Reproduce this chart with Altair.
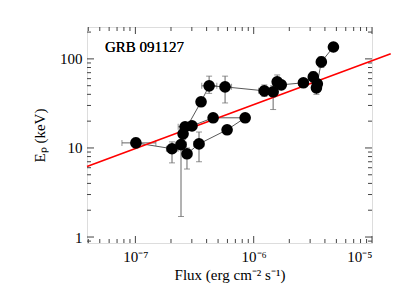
import altair as alt
import pandas as pd

# ---- data ----
flux = [1.01e-7, 2.04e-7, 2.43e-7, 2.73e-7, 3.45e-7, 5.96e-7, 8.47e-7, 4.54e-7,
        3.01e-7, 2.63e-7, 2.53e-7, 3.59e-7, 4.2e-7, 5.73e-7, 1.23e-6, 1.46e-6,
        1.58e-6, 1.71e-6, 2.63e-6, 3.19e-6, 3.45e-6, 3.39e-6, 3.73e-6, 4.72e-6]
flux_lo = [7.7e-8, 1.83e-7, 2.2e-7, 2.5e-7, 3.1e-7, 5.6e-7, 8.0e-7, 4.3e-7,
           2.75e-7, 2.3e-7, 2.35e-7, 3.3e-7, 3.64e-7, 5.2e-7, 1.1e-6, 1.35e-6,
           1.45e-6, 1.58e-6, 2.4e-6, 2.95e-6, 3.2e-6, 3.15e-6, 3.45e-6, 4.4e-6]
flux_hi = [1.49e-7, 2.3e-7, 2.7e-7, 3.0e-7, 3.8e-7, 6.3e-7, 9.0e-7, 4.8e-7,
           3.3e-7, 2.95e-7, 2.75e-7, 3.9e-7, 4.88e-7, 6.5e-7, 1.35e-6, 1.6e-6,
           1.72e-6, 1.85e-6, 2.9e-6, 3.45e-6, 3.7e-6, 3.65e-6, 4.0e-6, 5.1e-6]
ep = [11.4, 9.8, 10.9, 8.6, 11.1, 16.0, 21.8, 21.8,
      17.7, 17.3, 14.4, 33.0, 49.8, 48.5, 43.8, 42.7,
      55.2, 51.1, 53.9, 62.8, 52.5, 47.3, 92.5, 136.0]
ep_lo = [10.1, 6.8, 1.7, 5.8, 7.0, 15.0, 20.8, 20.5,
         16.0, 15.8, 12.5, 30.0, 41.0, 32.0, 37.8, 27.0,
         48.0, 46.0, 50.0, 55.0, 47.0, 40.0, 80.0, 125.0]
ep_hi = [12.9, 11.7, 12.0, 10.0, 15.1, 17.0, 22.8, 23.0,
         19.5, 19.2, 16.3, 36.0, 64.0, 64.0, 51.0, 50.0,
         66.0, 56.0, 58.0, 72.0, 58.0, 54.0, 106.0, 150.0]

fit_flux = [3.9e-8, 1.44e-5]
fit_ep = [6.2, 114.0]

x_major = [1e-7, 1e-6, 1e-5]
y_major = [1, 10, 100]
x_dom = [3.9e-8, 1.0e-5]
y_dom = [0.857, 228.0]

x_minor = [m * 10.0 ** e for e in (-8, -7, -6) for m in range(2, 10)
           if x_dom[0] <= m * 10.0 ** e <= x_dom[1]]
y_minor = [m * 10.0 ** e for e in (-1, 0, 1, 2) for m in range(2, 10)
           if y_dom[0] <= m * 10.0 ** e <= y_dom[1]]

W, H = 285, 216
MAJ, MIN = 7, 4

df = pd.DataFrame({"i": list(range(len(flux))), "flux": flux, "flux_lo": flux_lo,
                   "flux_hi": flux_hi, "ep": ep, "ep_lo": ep_lo, "ep_hi": ep_hi})
fit = pd.DataFrame({"flux": fit_flux, "ep": fit_ep})

FONT = "Liberation Serif"
xs = alt.Scale(type="log", domain=x_dom, nice=False)
ys = alt.Scale(type="log", domain=y_dom, nice=False)

xlab = ("datum.value == 1e-7 ? '10\u207b\u2077' : datum.value == 1e-6 ? "
        "'10\u207b\u2076' : '10\u207b\u2075'")

label_layer = alt.Chart(fit).mark_point(opacity=0).encode(
    x=alt.X("flux:Q", scale=xs, axis=alt.Axis(
        orient="bottom", values=x_major, labelExpr=xlab, ticks=False,
        domain=False, grid=False, labelPadding=6, labelFontSize=15,
        labelFont=FONT, labelColor="black",
        title="Flux (erg cm\u207b\u00b2 s\u207b\u00b9)", titleFont=FONT,
        titleFontSize=15, titleFontWeight="normal", titlePadding=3,
        titleColor="black")),
    y=alt.Y("ep:Q", scale=ys, axis=alt.Axis(
        orient="left", values=y_major, format="d", ticks=False,
        domain=False, grid=False, labelPadding=5, labelFontSize=15,
        labelFont=FONT, labelColor="black",
        title="E\u209a (keV)", titleFont=FONT, titleFontSize=15,
        titleFontWeight="normal", titlePadding=12, titleColor="black")),
)

TC = "#444"


def xticks(vals, L):
    d = pd.DataFrame({"v": vals})
    bot = alt.Chart(d).mark_rule(color=TC, strokeWidth=1).encode(
        x=alt.X("v:Q", scale=xs, axis=None), y=alt.value(H), y2=alt.value(H - L))
    top = alt.Chart(d).mark_rule(color=TC, strokeWidth=1).encode(
        x=alt.X("v:Q", scale=xs, axis=None), y=alt.value(0), y2=alt.value(L))
    return [bot, top]


def yticks(vals, L):
    d = pd.DataFrame({"v": vals})
    left = alt.Chart(d).mark_rule(color=TC, strokeWidth=1).encode(
        y=alt.Y("v:Q", scale=ys, axis=None), x=alt.value(0), x2=alt.value(L))
    right = alt.Chart(d).mark_rule(color=TC, strokeWidth=1).encode(
        y=alt.Y("v:Q", scale=ys, axis=None), x=alt.value(W), x2=alt.value(W - L))
    return [left, right]


tick_layers = (xticks(x_major, MAJ) + xticks(x_minor, MIN)
               + yticks(y_major, MAJ) + yticks(y_minor, MIN))

NOAX_X = alt.X("flux:Q", scale=xs, axis=None)
NOAX_Y = alt.Y("ep:Q", scale=ys, axis=None)

fit_line = alt.Chart(fit).mark_line(color="red", strokeWidth=1.6).encode(
    x=NOAX_X, y=NOAX_Y)

path = alt.Chart(df).mark_line(color="#444", strokeWidth=0.9).encode(
    x=NOAX_X, y=NOAX_Y, order="i:Q")

EC = "#666"
xerr = alt.Chart(df).mark_rule(color=EC, strokeWidth=1).encode(
    x=alt.X("flux_lo:Q", scale=xs, axis=None), x2="flux_hi:Q", y=NOAX_Y)
yerr = alt.Chart(df).mark_rule(color=EC, strokeWidth=1, clip=True).encode(
    y=alt.Y("ep_lo:Q", scale=ys, axis=None), y2="ep_hi:Q", x=NOAX_X)

cap_xlo = alt.Chart(df).mark_tick(color=EC, orient="vertical", size=6, thickness=1).encode(
    x=alt.X("flux_lo:Q", scale=xs, axis=None), y=NOAX_Y)
cap_xhi = alt.Chart(df).mark_tick(color=EC, orient="vertical", size=6, thickness=1).encode(
    x=alt.X("flux_hi:Q", scale=xs, axis=None), y=NOAX_Y)
cap_ylo = alt.Chart(df).mark_tick(color=EC, orient="horizontal", size=6, thickness=1).encode(
    y=alt.Y("ep_lo:Q", scale=ys, axis=None), x=NOAX_X)
cap_yhi = alt.Chart(df).mark_tick(color=EC, orient="horizontal", size=6, thickness=1).encode(
    y=alt.Y("ep_hi:Q", scale=ys, axis=None), x=NOAX_X)

pts = alt.Chart(df).mark_circle(color="black", opacity=1, size=135).encode(
    x=NOAX_X, y=NOAX_Y)

title = alt.Chart(fit).mark_text(
    text="GRB 091127", font=FONT, fontSize=15, fontWeight="normal",
    align="left", baseline="middle", color="black").encode(
    x=alt.value(18), y=alt.value(20))

chart = alt.layer(
    label_layer, *tick_layers,
    xerr, yerr, cap_xlo, cap_xhi, cap_ylo, cap_yhi,
    path, fit_line, pts, title,
).resolve_axis(x="independent", y="independent").properties(
    width=W, height=H,
    autosize=alt.AutoSizeParams(type="none"),
    padding={"left": 79, "top": 19, "right": 20, "bottom": 49},
).configure_view(stroke="#444", strokeWidth=1).configure(background="white")

chart.save("out.html", embed_options={"renderer": "svg", "actions": False})
